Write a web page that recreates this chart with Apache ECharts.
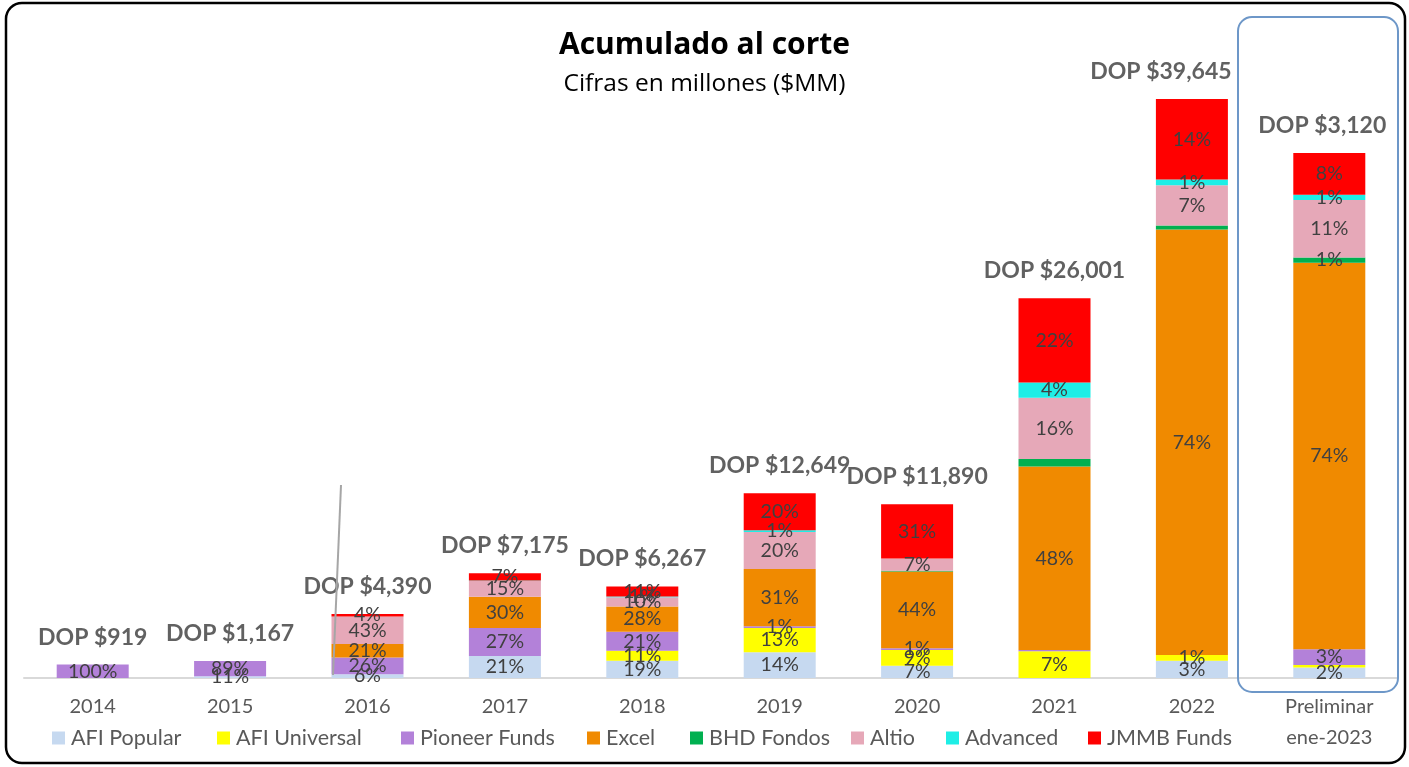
<!DOCTYPE html>
<html><head><meta charset="utf-8">
<script src="https://cdn.jsdelivr.net/npm/echarts@6/dist/echarts.min.js"></script>
<style>html,body{margin:0;padding:0;background:#fff}#c{width:1409px;height:767px}</style>
</head><body><div id="c"></div>
<script>
// ---- data ----
const categories = ['2014','2015','2016','2017','2018','2019','2020','2021','2022','Preliminar\nene-2023'];
const totalLabels = [919, 1167, 4390, 7175, 6267, 12649, 11890, 26001, 39645, 3120]; // DOP $MM shown above bars
const barTotals   = [919, 1167, 4390, 7175, 6267, 12649, 11890, 26001, 39645, 35950]; // plotted bar height (MM)
const seriesNames = ['AFI Popular','AFI Universal','Pioneer Funds','Excel','BHD Fondos','Altio','Advanced','JMMB Funds'];
// share of each fund in the bar (%)
const afiPopular   = [0, 11, 6, 21, 19, 14, 7, 0, 3, 2];
const afiUniversal = [0, 0, 0, 0, 11, 13, 9, 7, 1, 0.5];
const pioneerFunds = [100, 89, 26, 27, 21, 1, 1, 0.3, 0, 3];
const excel        = [0, 0, 21, 30, 28, 31, 44, 48, 74, 74];
const bhdFondos    = [0, 0, 0, 0, 0, 0, 0.5, 2, 0.7, 1];
const altio        = [0, 0, 43, 15, 10, 20, 7, 16, 7, 11];
const advanced     = [0, 0, 0, 0.5, 1, 1, 0, 4, 1, 1];
const jmmbFunds    = [0, 0, 4, 7, 11, 20, 31, 22, 14, 8];
const hiddenLabels = [['BHD Fondos', '2021']];
const colors = ['#c6d9f0','#ffff00','#b381d9','#f08a00','#00b050','#e6a8b8','#1eeee6','#ff0000'];
const legendLeft = [47, 212, 396, 582, 685, 846, 941, 1083];
const totalLabelShift = [0, 0, 0, 0, 0, 0, 0, 0, -31, -7];

const shares = [afiPopular, afiUniversal, pioneerFunds, excel, bhdFondos, altio, advanced, jmmbFunds];
const shareSums = categories.map((c, i) => shares.reduce((a, arr) => a + arr[i], 0));
const FONT = 'Lato';

const barSeries = seriesNames.map((name, s) => ({
  name, type: 'bar', stack: 'a', barWidth: 72,
  itemStyle: { color: colors[s] },
  data: shares[s].map((p, i) => {
    const hidden = p < 1 || hiddenLabels.some(h => h[0] === name && h[1] === categories[i]);
    return {
      value: p / shareSums[i] * barTotals[i],
      label: { show: !hidden }
    };
  }),
  label: {
    position: 'inside', color: '#404040', fontFamily: FONT, fontSize: 19.5,
    formatter: (prm) => Math.round(shares[s][prm.dataIndex]) + '%'
  }
}));

const totalSeries = {
  type: 'scatter', symbolSize: 0, silent: true,
  data: barTotals.map((v, i) => ({ value: v, label: { offset: [totalLabelShift[i], 0] } })),
  label: {
    show: true, position: 'top', distance: 16,
    color: '#3a3a3a', fontFamily: FONT, fontWeight: 'bold', fontSize: 23,
    formatter: (prm) => 'DOP $' + totalLabels[prm.dataIndex].toLocaleString('en-US')
  }
};

const legends = seriesNames.map((name, s) => ({
  data: [name], left: legendLeft[s], top: 722, itemWidth: 13, itemHeight: 13, itemGap: 0,
  icon: 'rect',
  textStyle: { fontFamily: FONT, fontSize: 21.5, color: '#595959', padding: [0, 0, 0, 1] }
}));

const chart = echarts.init(document.getElementById('c'));
chart.setOption({
  animation: false,
  title: {
    text: 'Acumulado al corte', subtext: 'Cifras en millones ($MM)',
    left: 'center', top: 25, itemGap: 12,
    textStyle: { fontFamily: 'Open Sans', fontWeight: 'bold', fontSize: 30, color: '#000' },
    subtextStyle: { fontFamily: 'Open Sans', fontSize: 24.5, color: '#000' }
  },
  grid: { left: 24, right: 11, top: 78, bottom: 89 },
  legend: legends,
  xAxis: {
    type: 'category', data: categories,
    axisLine: { lineStyle: { color: '#d9d9d9', width: 2 } },
    axisTick: { show: false },
    axisLabel: { color: '#595959', fontFamily: FONT, fontSize: 20, margin: 13, lineHeight: 31 }
  },
  yAxis: { type: 'value', min: 0, max: 41083, show: false, splitLine: { show: false } },
  series: [...barSeries, totalSeries],
  graphic: [
    { type: 'rect', shape: { x: 6, y: 3, width: 1399, height: 760, r: 16 },
      style: { fill: 'none', stroke: '#000', lineWidth: 2.5 }, z: 100 },
    { type: 'rect', shape: { x: 1238, y: 17, width: 160, height: 675, r: 14 },
      style: { fill: 'none', stroke: '#6d97c8', lineWidth: 2 }, z: 100 },
    { type: 'line', shape: { x1: 341, y1: 485, x2: 333, y2: 675 },
      style: { stroke: '#a6a6a6', lineWidth: 2 }, z: 100 }
  ]
});
</script></body></html>
